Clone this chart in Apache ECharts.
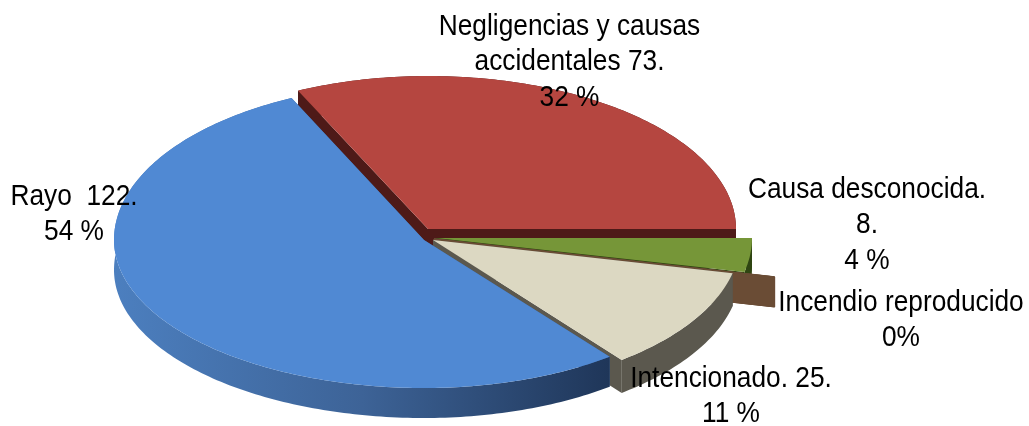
<!DOCTYPE html>
<html><head><meta charset="utf-8">
<style>html,body{margin:0;padding:0;background:#fff}#c{width:1029px;height:426px}</style>
<script src="https://cdn.jsdelivr.net/npm/echarts@6/dist/echarts.min.js"></script>
</head><body><div id="c"></div>
<script>
// Data, clockwise from the red slice
const categories = ['Negligencias y causas accidentales','Causa desconocida','Incendio reproducido','Intencionado','Rayo'];
const values = [73, 8, 0, 25, 122];
const labelTexts = ['Negligencias y causas\naccidentales 73.\n32 %','Causa desconocida.\n8.\n4 %','Incendio reproducido\n0%','Intencionado. 25.\n11 %','Rayo  122.\n54 %'];

// Layout and styling of each slice (separate from the data)
const startAngle = -25.3;
const wallH = [30, 30, 30, 33, 30];
const geom = [
  {cx:428,cy:229,rxR:308,rxL:304,ryT:153,ryB:153},
  {cx:436,cy:238,rxR:316,rxL:316,ryT:156,ryB:156},
  {cx:434,cy:239,rxR:349,rxL:349,ryT:174,ryB:174},
  {cx:433,cy:240,rxR:307,rxL:307,ryT:152,ryB:152},
  {cx:424,cy:240,rxR:302,rxL:310,ryT:157,ryB:148}
];
const topColors = ['#B54640','#769638','#6A4C35','#DCD8C2','#5089D3'];
const blueWall = {type:'linear',x:0,y:0,x2:1,y2:0,colorStops:[{offset:0,color:'#4C7FBF'},{offset:0.5,color:'#3D6397'},{offset:1,color:'#1F3659'}]};
const wallColors = ['#4E1A18','#2F4512','#6A4C35','#5B584E',blueWall];
const cutColors = ['#4E1A18','#2F4512','#6A4C35','#5B584E','#3D6397'];
const labelPos = [[569.5,62],[867,225],[901,320],[731,396],[74,214]];
const FONT = '30px "Liberation Sans",sans-serif';
const FONT_SCALE_X = 0.876;

const total = values.reduce((a,b)=>a+b,0);
const rad = d => d*Math.PI/180;
function pt(g,deg){
  const s=Math.sin(rad(deg)), c=Math.cos(rad(deg));
  return [g.cx+(s>0?g.rxR:g.rxL)*s, g.cy-(c>0?g.ryT:g.ryB)*c];
}
function arc(g,a,b){
  const n=Math.max(2,Math.ceil(Math.abs(b-a)));
  const out=[];
  for(let i=0;i<=n;i++) out.push(pt(g,a+(b-a)*i/n));
  return out;
}
const down=(p,h)=>[p[0],p[1]+h];

function renderItem(params,api){
  const i=params.dataIndex;
  const val=api.value(0);
  let before=0;
  for(let k=0;k<i;k++) before+=values[k];
  const a0=startAngle+before/total*360, a1=a0+val/total*360;
  const g=geom[i], h=wallH[i], base=(i+1)*10;
  const c=[g.cx,g.cy], rim=arc(g,a0,a1);
  const children=[];
  // radial cut faces
  [rim[0],rim[rim.length-1]].forEach((e,j)=>{
    children.push({type:'polygon',z2:base+j,
      shape:{points:[c,e,down(e,h),down(c,h)]},
      style:{fill:cutColors[i],stroke:cutColors[i],lineWidth:val===0?1:0}});
  });
  // outer wall
  if(val>0){
    children.push({type:'polygon',z2:base+2,
      shape:{points:rim.concat(rim.slice().reverse().map(p=>down(p,h)))},
      style:{fill:wallColors[i]}});
  }
  // top face
  children.push({type:'polygon',z2:base+3,
    shape:{points:[c].concat(rim)},
    style:{fill:topColors[i],stroke:topColors[i],lineWidth:val===0?1.5:0}});
  // label
  children.push({type:'text',z2:1000,x:labelPos[i][0],y:labelPos[i][1],scaleX:FONT_SCALE_X,
    style:{text:labelTexts[i],font:FONT,fill:'#000',align:'center',verticalAlign:'middle',lineHeight:35.5}});
  return {type:'group',children};
}

const chart=echarts.init(document.getElementById('c'),null,{renderer:'canvas'});
chart.setOption({
  animation:false,
  backgroundColor:'#fff',
  series:[{
    type:'custom',
    coordinateSystem:'none',
    renderItem,
    data:values.map((v,i)=>({name:categories[i],value:[v]}))
  }]
});
</script></body></html>
